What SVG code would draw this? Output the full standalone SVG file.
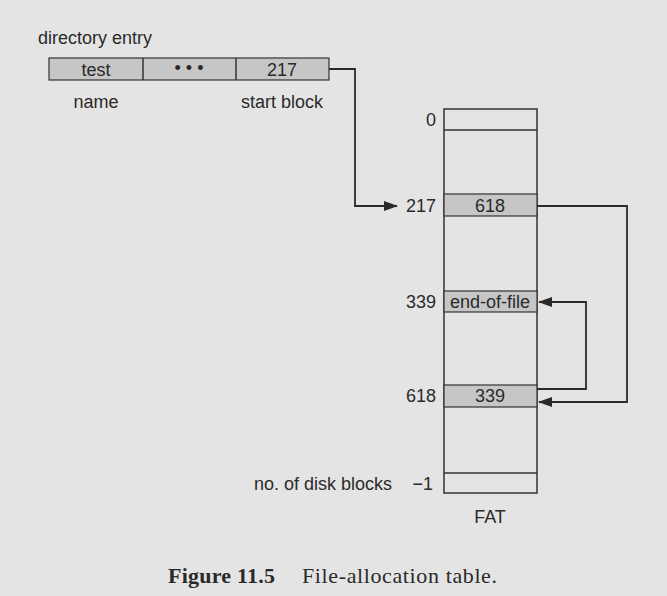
<svg xmlns="http://www.w3.org/2000/svg" width="667" height="596" viewBox="0 0 667 596">
<defs>
<style>
.t{font-family:"Liberation Sans",Arial,sans-serif;font-size:18px;fill:#2a2a2a}
.cap{font-family:"Liberation Serif","Times New Roman",serif;font-size:22px;fill:#2a2a2a}
.box{fill:none;stroke:#333;stroke-width:1.5}
.cell{fill:#c6c6c6;stroke:#333;stroke-width:1.2}
.ln{stroke:#333;stroke-width:1.5;fill:none}
.con{stroke:#2a2a2a;stroke-width:1.8;fill:none}
.dot{fill:#2a2a2a}
</style>
<marker id="ah" markerWidth="14" markerHeight="10" refX="13" refY="5" orient="auto" markerUnits="userSpaceOnUse">
<path d="M0,0 L14,5 L0,10 Z" fill="#2a2a2a"/>
</marker>
</defs>
<rect width="667" height="596" fill="#e4e4e4"/>
<g id="directory-entry">
<text class="t" x="38" y="44">directory entry</text>
<rect class="cell" x="49" y="58" width="280" height="22"/>
<line class="ln" x1="143" y1="58" x2="143" y2="80"/>
<line class="ln" x1="236" y1="58" x2="236" y2="80"/>
<text class="t" x="96" y="76" text-anchor="middle">test</text>
<text class="t" x="189" y="74" text-anchor="middle" font-size="10">• • •</text>
<text class="t" x="282" y="76" text-anchor="middle">217</text>
<text class="t" x="96" y="108" text-anchor="middle">name</text>
<text class="t" x="282" y="108" text-anchor="middle">start block</text>
</g>
<g id="fat">
<rect class="box" x="444" y="109" width="93" height="384"/>
<line class="ln" x1="444" y1="130" x2="537" y2="130"/>
<rect class="cell" x="444" y="194" width="93" height="22"/>
<rect class="cell" x="444" y="291" width="93" height="21"/>
<rect class="cell" x="444" y="385" width="93" height="22"/>
<line class="ln" x1="444" y1="473" x2="537" y2="473"/>
<text class="t" x="490" y="212" text-anchor="middle">618</text>
<text class="t" x="490" y="308" text-anchor="middle">end-of-file</text>
<text class="t" x="490" y="402" text-anchor="middle">339</text>
<text class="t" x="436" y="126" text-anchor="end">0</text>
<text class="t" x="436" y="212" text-anchor="end">217</text>
<text class="t" x="436" y="308" text-anchor="end">339</text>
<text class="t" x="436" y="402" text-anchor="end">618</text>
<text class="t" x="254" y="490">no. of disk blocks</text>
<text class="t" x="433" y="490" text-anchor="end">−1</text>
<text class="t" x="490" y="523" text-anchor="middle">FAT</text>
</g>
<g id="connectors">
<path class="con" d="M329,69 H355 V206 H397" marker-end="url(#ah)"/>
<path class="con" d="M537,206 H627 V402 H539" marker-end="url(#ah)"/>
<path class="con" d="M537,389 H586 V302 H539" marker-end="url(#ah)"/>
</g>
<g id="caption">
<text class="cap" x="168" y="583"><tspan font-weight="bold" textLength="107">Figure 11.5</tspan><tspan x="302" textLength="195">File-allocation table.</tspan></text>
</g>
</svg>
